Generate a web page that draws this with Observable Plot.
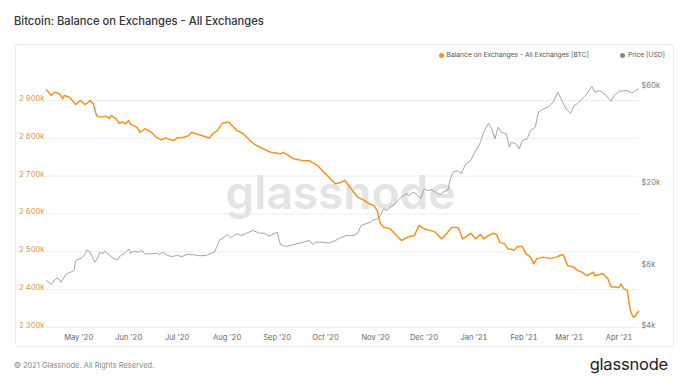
<!DOCTYPE html>
<html>
<head>
<meta charset="utf-8">
<script src="https://cdn.jsdelivr.net/npm/d3@7"></script>
<script src="https://cdn.jsdelivr.net/npm/@observablehq/plot@0.6"></script>
<style>
  html, body { margin: 0; padding: 0; background: #fff; }
  body { width: 680px; height: 383px; position: relative; overflow: hidden; font-family: Inter, "Noto Sans", sans-serif; }
  .title { position: absolute; left: 14px; top: 14px; font-size: 11.2px; font-weight: 500; color: #333; white-space: nowrap; }
  .card { position: absolute; left: 15px; top: 44px; width: 659px; height: 303px; border: 1px solid #ececec; border-radius: 3px; box-sizing: border-box; }
  #chart { position: absolute; left: 0; top: 0; }
  .legend { position: absolute; top: 51px; right: 15px; font-size: 6.7px; color: #555; white-space: nowrap; display: flex; gap: 31px; }
  .legend span { display: inline-flex; align-items: center; }
  .legend i { display: inline-block; width: 5px; height: 5px; border-radius: 50%; margin-right: 3px; }
  .footer { position: absolute; left: 14px; top: 361px; font-size: 7.5px; color: #888; white-space: nowrap; }
  .logo { position: absolute; right: 12px; top: 354px; font-size: 16.5px; color: #222; font-weight: 400; letter-spacing: -0.2px; }
</style>
</head>
<body>
<div class="title">Bitcoin: Balance on Exchanges - All Exchanges</div>
<div class="card"></div>
<div id="chart"></div>
<div class="legend">
  <span><i style="background:#f7931a"></i>Balance on Exchanges - All Exchanges [BTC]</span>
  <span><i style="background:#888"></i>Price [USD]</span>
</div>
<div class="footer">© 2021 Glassnode. All Rights Reserved.</div>
<div class="logo">glassnode</div>
<script>
// Balance on exchanges (BTC)
const balanceDates = [
  "2020-04-11","2020-04-14","2020-04-16","2020-04-19","2020-04-21","2020-04-22","2020-04-25","2020-04-27","2020-04-29",
  "2020-05-02","2020-05-05","2020-05-08","2020-05-10","2020-05-12","2020-05-14","2020-05-18","2020-05-20","2020-05-21",
  "2020-05-24","2020-05-26","2020-05-28","2020-05-30","2020-06-01","2020-06-02","2020-06-06","2020-06-08","2020-06-11",
  "2020-06-15","2020-06-18","2020-06-21","2020-06-24","2020-06-27","2020-06-29","2020-07-01","2020-07-05","2020-07-08",
  "2020-07-10","2020-07-14","2020-07-18","2020-07-21","2020-07-23","2020-07-26","2020-07-29","2020-08-02","2020-08-04",
  "2020-08-07","2020-08-11","2020-08-15","2020-08-19","2020-08-21","2020-08-28","2020-09-03","2020-09-05","2020-09-11",
  "2020-09-17","2020-09-21","2020-09-26","2020-09-30","2020-10-04","2020-10-07","2020-10-11","2020-10-13","2020-10-16",
  "2020-10-21","2020-10-25","2020-10-28","2020-10-31","2020-11-02","2020-11-04","2020-11-06","2020-11-10","2020-11-14",
  "2020-11-17","2020-11-21","2020-11-25","2020-11-28","2020-12-01","2020-12-05","2020-12-08","2020-12-12","2020-12-15",
  "2020-12-18","2020-12-22","2020-12-23","2020-12-25","2020-12-28","2020-12-30","2021-01-02","2021-01-05","2021-01-07",
  "2021-01-10","2021-01-13","2021-01-15","2021-01-17","2021-01-20","2021-01-22","2021-01-26","2021-01-28","2021-01-31",
  "2021-02-02","2021-02-05","2021-02-07","2021-02-09","2021-02-13","2021-02-17","2021-02-21","2021-02-25","2021-02-26",
  "2021-02-28","2021-03-04","2021-03-06","2021-03-09","2021-03-12","2021-03-16","2021-03-17","2021-03-20","2021-03-22",
  "2021-03-25","2021-03-27","2021-04-01","2021-04-02","2021-04-04","2021-04-06","2021-04-07","2021-04-08","2021-04-09",
  "2021-04-10","2021-04-11","2021-04-12","2021-04-13"
];
const balanceValues = [
  2928,2913,2922,2918,2904,2913,2909,2900,2889,
  2900,2889,2900,2891,2860,2856,2858,2852,2860,
  2852,2840,2843,2838,2847,2838,2829,2816,2825,
  2816,2803,2796,2801,2796,2794,2801,2803,2807,
  2816,2810,2805,2801,2812,2821,2840,2843,2834,
  2821,2812,2794,2781,2777,2763,2759,2763,2746,
  2741,2741,2728,2710,2693,2680,2684,2689,2671,
  2644,2636,2627,2622,2609,2574,2565,2561,2543,
  2530,2539,2543,2570,2561,2556,2552,2534,2548,
  2564,2564,2556,2534,2543,2549,2534,2546,2534,
  2543,2549,2546,2525,2521,2508,2505,2514,2514,
  2496,2486,2468,2482,2486,2482,2486,2493,2486,
  2464,2459,2451,2446,2437,2446,2437,2440,2442,
  2429,2408,2406,2415,2402,2398,2370,2345,2333,
  2327,2330,2338,2342
].map(v => v * 1000);

// Price (USD)
const priceDates = [
  "2020-04-11","2020-04-14","2020-04-16","2020-04-18","2020-04-20","2020-04-23","2020-04-26","2020-04-28","2020-04-29",
  "2020-04-30","2020-05-03","2020-05-05","2020-05-06","2020-05-08","2020-05-10","2020-05-11","2020-05-13","2020-05-14",
  "2020-05-16","2020-05-17","2020-05-19","2020-05-21","2020-05-23","2020-05-25","2020-05-27","2020-05-29","2020-06-01",
  "2020-06-02","2020-06-04","2020-06-07","2020-06-09","2020-06-11","2020-06-15","2020-06-18","2020-06-20","2020-06-22",
  "2020-06-25","2020-06-28","2020-07-01","2020-07-04","2020-07-07","2020-07-11","2020-07-15","2020-07-19","2020-07-22",
  "2020-07-24","2020-07-26","2020-07-27","2020-07-30","2020-08-01","2020-08-03","2020-08-05","2020-08-07","2020-08-10",
  "2020-08-13","2020-08-17","2020-08-21","2020-08-24","2020-08-27","2020-08-30","2020-09-01","2020-09-03","2020-09-06",
  "2020-09-09","2020-09-13","2020-09-17","2020-09-21","2020-09-23","2020-09-25","2020-09-29","2020-10-03","2020-10-07",
  "2020-10-11","2020-10-14","2020-10-18","2020-10-21","2020-10-23","2020-10-26","2020-10-29","2020-10-31","2020-11-02",
  "2020-11-04","2020-11-06","2020-11-08","2020-11-10","2020-11-13","2020-11-15","2020-11-17","2020-11-20","2020-11-22",
  "2020-11-24","2020-11-26","2020-11-29","2020-12-01","2020-12-03","2020-12-06","2020-12-09","2020-12-11","2020-12-14",
  "2020-12-16","2020-12-17","2020-12-19","2020-12-22","2020-12-24","2020-12-27","2020-12-30","2021-01-01","2021-01-04",
  "2021-01-05","2021-01-07","2021-01-10","2021-01-12","2021-01-14","2021-01-16","2021-01-18","2021-01-21","2021-01-23",
  "2021-01-24","2021-01-27","2021-01-29","2021-01-31","2021-02-03","2021-02-05","2021-02-08","2021-02-10","2021-02-13",
  "2021-02-16","2021-02-19","2021-02-22","2021-02-24","2021-02-27","2021-03-02","2021-03-04","2021-03-06","2021-03-09",
  "2021-03-12","2021-03-15","2021-03-17","2021-03-20","2021-03-23","2021-03-27","2021-03-29","2021-04-01","2021-04-06",
  "2021-04-09","2021-04-11","2021-04-13"
];
const priceValues = [
  6800,6500,6850,7010,6670,7280,7470,7610,8450,
  8590,8780,9190,9610,9360,8690,8360,8840,9360,
  9190,9470,9190,8910,8690,8590,9020,9190,9720,
  9250,9470,9360,9540,9190,9190,9250,9120,9360,
  9020,8910,9020,8910,9120,9090,8990,9020,9250,
  9360,10090,10680,11080,11430,11010,11300,11520,11300,
  11600,11960,11600,11600,11210,11520,11730,10210,9980,
  10090,10290,10480,10680,10210,10480,10480,10360,10680,
  11080,11300,11300,11600,12650,12900,13130,13490,13640,
  14160,15270,14980,15550,16160,16780,17410,18090,17750,
  18420,18090,17100,19140,18780,18930,18210,17950,18630,
  18930,21020,23080,23530,22670,25380,26350,28420,31210,
  32380,36260,40140,37680,33660,38370,36260,35620,30610,
  32380,31810,30060,33010,33660,36960,38370,45440,47200,
  48080,50880,56960,52880,47200,44920,49000,50000,52880,
  55920,60760,56960,58080,55920,51440,54880,57600,58080,
  56320,58080,59160
];

// Axis ticks
const monthTicks = ["2020-05-01","2020-06-01","2020-07-01","2020-08-01","2020-09-01","2020-10-01","2020-11-01","2020-12-01","2021-01-01","2021-02-01","2021-03-01","2021-04-01"];
const balanceTicks = [2300000, 2400000, 2500000, 2600000, 2700000, 2800000, 2900000];
const balanceTickLabels = ["2 300k","2 400k","2 500k","2 600k","2 700k","2 800k","2 900k"];
const priceTicks = [4000, 8000, 20000, 60000];
const priceTickLabels = ["$4k","$8k","$20k","$60k"];

const balance = balanceDates.map((d, i) => ({date: new Date(d), value: balanceValues[i]}));
// Price is drawn on a log axis on the right; map it into the left scale's units.
const priceToLeft = d3.scaleLog().domain([4000, 60000]).range([2300000, 2934000]);
const price = priceDates.map((d, i) => ({date: new Date(d), value: priceToLeft(priceValues[i])}));

const chart = Plot.plot({
  width: 680,
  height: 383,
  marginLeft: 46,
  marginRight: 42,
  marginTop: 75,
  marginBottom: 56,
  style: {background: "transparent", fontFamily: "Inter, 'Noto Sans', sans-serif", fontSize: "7.5px"},
  x: {type: "utc", domain: [new Date("2020-04-11"), new Date("2021-04-13")]},
  y: {domain: [2300000, 2966000]},
  marks: [
    Plot.gridY(balanceTicks, {stroke: "#eeeeee", strokeOpacity: 1}),
    Plot.text(["glassnode"], {frameAnchor: "middle", dx: -2, dy: -7, fontSize: 46, fontWeight: 600, fill: "#e4e4e4", letterSpacing: "-1px"}),
    Plot.axisX(monthTicks.map(d => new Date(d)), {tickSize: 0, tickPadding: 7, tickFormat: d3.utcFormat("%b '%y"), fill: "#666", fontSize: 7.5}),
    Plot.axisY(balanceTicks, {anchor: "left", tickSize: 0, tickPadding: 2, dy: -2, tickFormat: (d) => balanceTickLabels[balanceTicks.indexOf(d)], fill: "#dc9446", fontSize: 7.5, label: null}),
    Plot.axisY(priceTicks.map(p => priceToLeft(p)), {anchor: "right", tickSize: 0, tickPadding: 3, dy: -2, tickFormat: (d) => priceTickLabels[priceTicks.findIndex(p => Math.abs(priceToLeft(p) - d) < 1)], fill: "#777", fontSize: 7.5, label: null}),
    Plot.line(price, {x: "date", y: "value", stroke: "#9a9a9a", strokeWidth: 0.9}),
    Plot.line(balance, {x: "date", y: "value", stroke: "#f7931a", strokeWidth: 1.5})
  ]
});
document.getElementById("chart").appendChild(chart);
</script>
</body>
</html>
